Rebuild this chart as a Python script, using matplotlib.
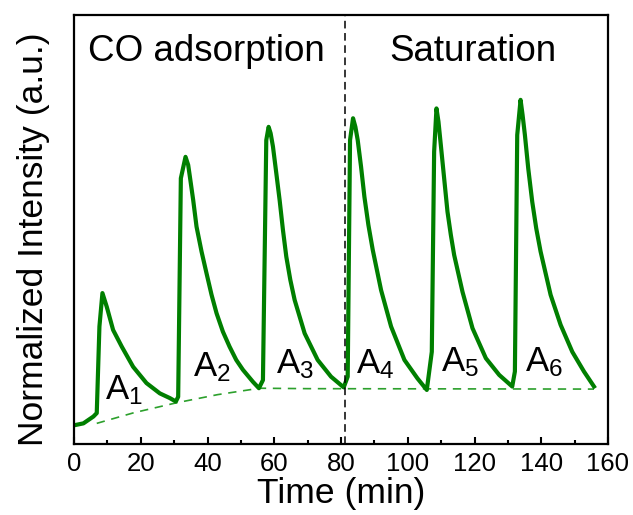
import matplotlib
matplotlib.use("Agg")
import matplotlib.pyplot as plt

plt.rcParams['font.family'] = ['Liberation Sans', 'DejaVu Sans']
plt.rcParams['mathtext.fontset'] = 'custom'
plt.rcParams['mathtext.rm'] = 'Liberation Sans'

# trace (time in min, intensity normalised to the frame)
time = [0.3, 2.8, 5.8, 6.8, 7.6, 8.5, 9.8, 11.7, 14.3, 17.7, 21.7, 25.7, 28.7, 30.5,
        31.2, 32.0, 33.4, 34.2, 34.7, 35.7, 36.7, 38.2, 39.7, 41.2, 42.7, 44.6, 46.6, 48.6, 50.6, 53.6, 55.4,
        56.6, 57.6, 58.3, 58.9, 59.6, 60.6, 61.6, 62.6, 63.6, 64.8, 66.1, 69.1, 73.0, 77.0, 80.8,
        82.0, 82.7, 83.6, 84.3, 85.0, 86.0, 87.0, 88.2, 89.5, 92.0, 95.0, 99.0, 102.9, 105.7,
        107.2, 107.9, 108.6, 109.2, 109.9, 110.9, 111.9, 112.9, 113.9, 116.4, 119.4, 123.4, 127.4, 131.3,
        132.1, 132.8, 133.8, 134.4, 135.1, 136.1, 137.3, 138.5, 139.8, 142.8, 145.8, 149.3, 152.8, 155.8]
intensity = [0.044, 0.048, 0.064, 0.072, 0.274, 0.352, 0.320, 0.266, 0.227, 0.180, 0.142, 0.118, 0.107, 0.099,
             0.110, 0.620, 0.670, 0.651, 0.624, 0.569, 0.507, 0.449, 0.398, 0.348, 0.305, 0.262, 0.227, 0.196, 0.173, 0.145, 0.130,
             0.149, 0.709, 0.740, 0.725, 0.694, 0.632, 0.569, 0.499, 0.437, 0.383, 0.336, 0.258, 0.196, 0.157, 0.132,
             0.157, 0.709, 0.760, 0.740, 0.709, 0.647, 0.577, 0.511, 0.453, 0.359, 0.274, 0.196, 0.153, 0.126,
             0.215, 0.682, 0.783, 0.752, 0.698, 0.620, 0.542, 0.488, 0.441, 0.355, 0.270, 0.200, 0.161, 0.134,
             0.169, 0.721, 0.803, 0.768, 0.721, 0.643, 0.565, 0.503, 0.449, 0.348, 0.278, 0.215, 0.169, 0.134]

# dashed background line under the pulses
base_time = [6.8, 18.0, 30.7, 43.0, 55.6, 70.0, 155.8]
base_intensity = [0.048, 0.073, 0.096, 0.115, 0.130, 0.129, 0.128]

split_time = 81.2
labels = ['1', '2', '3', '4', '5', '6']
label_x = [9.3, 35.6, 60.6, 84.5, 109.9, 135.1]
label_y = [0.105, 0.157, 0.165, 0.165, 0.169, 0.169]

fig = plt.figure(figsize=(6.33, 5.15), dpi=100)
ax = fig.add_axes([0.117, 0.138, 0.8435, 0.832])

ax.plot(base_time, base_intensity, color='#2ca02c', lw=1.2, dashes=(5, 4))
ax.plot(time, intensity, color='#007f00', lw=3.0, solid_joinstyle='round')
ax.axvline(split_time, color='black', lw=1.1, dashes=(5, 3))

for lab, x, y in zip(labels, label_x, label_y):
    ax.text(x, y, r'$\mathregular{A_%s}$' % lab, fontsize=25, ha='left', va='baseline')

ax.text(0.248, 0.915, 'CO adsorption', transform=ax.transAxes, fontsize=26.5,
        ha='center', va='center')
ax.text(0.747, 0.915, 'Saturation', transform=ax.transAxes, fontsize=26.5,
        ha='center', va='center')

ax.set_xlim(0, 160)
ax.set_ylim(0, 1)
ax.set_xticks(range(0, 161, 20))
ax.set_xticks(range(10, 160, 20), minor=True)
ax.set_yticks([])
ax.tick_params(axis='x', which='major', direction='in', length=5, width=1.5, labelsize=18.5, pad=6)
ax.tick_params(axis='x', which='minor', direction='in', length=3, width=1.5)
for s in ax.spines.values():
    s.set_linewidth(1.6)

ax.set_xlabel('Time (min)', fontsize=25.5)
ax.xaxis.set_label_coords(0.5, -0.078)
ax.set_ylabel('Normalized Intensity (a.u.)', fontsize=25.5)
ax.yaxis.set_label_coords(-0.045, 0.478)

fig.savefig('out.png', dpi=100)
